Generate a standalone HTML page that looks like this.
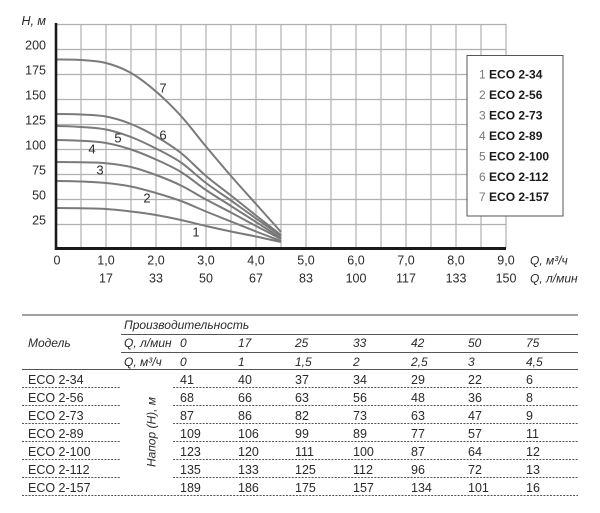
<!DOCTYPE html>
<html><head><meta charset="utf-8"><style>
html,body{margin:0;padding:0;background:#fff;}
svg{display:block;}
text{font-family:"Liberation Sans",sans-serif;fill:#2a2a2a;}
.it{font-style:italic;}
</style></head><body>
<svg width="600" height="513" viewBox="0 0 600 513" xmlns="http://www.w3.org/2000/svg">
<!-- grid -->
<g stroke="#b0b0b0" stroke-width="1.2" fill="none">
<path d="M56 24.5H506M56 49.5H506M56 74.5H506M56 99.5H506M56 124.5H506M56 149.5H506M56 174.5H506M56 199.5H506M56 224.5H506"/>
<path d="M81 24V248M106 24V248M131 24V248M156 24V248M181 24V248M206 24V248M231 24V248M256 24V248M281 24V248M306 24V248M331 24V248M356 24V248M381 24V248M406 24V248M431 24V248M456 24V248M481 24V248M506 24V248"/>
</g>
<!-- curves -->
<g stroke="#7a7a7a" stroke-width="2" fill="none">
<path d="M56 208C64.33 208 72.67 208.13 81 208.3C89.33 208.47 97.67 208.47 106 209C114.33 209.53 122.67 210.5 131 211.5C139.33 212.5 147.67 213.58 156 215C164.33 216.42 172.67 218.17 181 220C189.33 221.83 197.67 224.08 206 226C214.33 227.92 222.67 229.75 231 231.5C239.33 233.25 247.67 234.75 256 236.5C264.33 238.25 272.67 240.17 281 242"/>
<path d="M56 181C64.33 181 72.67 181.17 81 181.5C89.33 181.83 97.67 182.17 106 183C114.33 183.83 122.67 184.83 131 186.5C139.33 188.17 147.67 190.58 156 193C164.33 195.42 172.67 197.92 181 201C189.33 204.08 197.67 208.08 206 211.5C214.33 214.92 222.67 218.17 231 221.5C239.33 224.83 247.67 228.25 256 231.5C264.33 234.75 272.67 237.83 281 241"/>
<path d="M56 162C64.33 162 72.67 162.1 81 162.3C89.33 162.5 97.67 162.42 106 163.2C114.33 163.98 122.67 165.03 131 167C139.33 168.97 147.67 171.92 156 175C164.33 178.08 172.67 181.42 181 185.5C189.33 189.58 197.67 195 206 199.5C214.33 204 222.67 208.08 231 212.5C239.33 216.92 247.67 221.58 256 226C264.33 230.42 272.67 234.67 281 239"/>
<path d="M56 140C64.33 140 72.67 140.3 81 140.8C89.33 141.3 97.67 141.55 106 143C114.33 144.45 122.67 146.75 131 149.5C139.33 152.25 147.67 155.75 156 159.5C164.33 163.25 172.67 166.92 181 172C189.33 177.08 197.67 184.33 206 190C214.33 195.67 222.67 200.67 231 206C239.33 211.33 247.67 216.67 256 222C264.33 227.33 272.67 232.67 281 238"/>
<path d="M56 126C64.33 126 72.67 126.42 81 127C89.33 127.58 97.67 127.83 106 129.5C114.33 131.17 122.67 133.83 131 137C139.33 140.17 147.67 144.25 156 148.5C164.33 152.75 172.67 156.75 181 162.5C189.33 168.25 197.67 176.67 206 183C214.33 189.33 222.67 194.58 231 200.5C239.33 206.42 247.67 212.58 256 218.5C264.33 224.42 272.67 230.17 281 236"/>
<path d="M56 114C64.33 114 72.67 114.08 81 114.5C89.33 114.92 97.67 114.92 106 116.5C114.33 118.08 122.67 120.67 131 124C139.33 127.33 147.67 131.67 156 136.5C164.33 141.33 172.67 146.42 181 153C189.33 159.58 197.67 168.92 206 176C214.33 183.08 222.67 188.92 231 195.5C239.33 202.08 247.67 208.92 256 215.5C264.33 222.08 272.67 228.5 281 235"/>
<path d="M56 59.5C64.33 59.5 72.67 59.42 81 60C89.33 60.58 97.67 60.83 106 63C114.33 65.17 122.67 68.25 131 73C139.33 77.75 147.67 84.33 156 91.5C164.33 98.67 172.67 106.83 181 116C189.33 125.17 197.67 136.5 206 146.5C214.33 156.5 222.67 166.42 231 176C239.33 185.58 247.67 194.67 256 204C264.33 213.33 272.67 222.67 281 232"/>
</g>
<!-- axes -->
<path d="M56 23V250" stroke="#1a1a1a" stroke-width="2.6"/>
<path d="M55 248.5H506" stroke="#1a1a1a" stroke-width="3"/>
<!-- curve labels -->
<g font-size="13" text-anchor="middle">
<text x="163" y="92.5" fill="#6a6a6a">7</text>
<text x="163" y="139.5" fill="#6a6a6a">6</text>
<text x="118" y="142.5" fill="#6a6a6a">5</text>
<text x="92" y="153.5" fill="#6a6a6a">4</text>
<text x="100" y="174.5" fill="#6a6a6a">3</text>
<text x="147" y="202.5" fill="#6a6a6a">2</text>
<text x="196" y="236.5" fill="#6a6a6a">1</text>
</g>
<!-- y labels -->
<g font-size="12.5" text-anchor="end">
<text x="46" y="25" class="it">H, м</text>
<text x="46" y="49.5">200</text>
<text x="46" y="74.5">175</text>
<text x="46" y="99.5">150</text>
<text x="46" y="124.5">125</text>
<text x="46" y="149.5">100</text>
<text x="46" y="174.5">75</text>
<text x="46" y="199.5">50</text>
<text x="46" y="224.5">25</text>
</g>
<!-- x labels -->
<g font-size="12.5" text-anchor="middle">
<text x="57" y="264.5">0</text>
<text x="106" y="264.5">1,0</text>
<text x="156" y="264.5">2,0</text>
<text x="206" y="264.5">3,0</text>
<text x="256" y="264.5">4,0</text>
<text x="306" y="264.5">5,0</text>
<text x="356" y="264.5">6,0</text>
<text x="406" y="264.5">7,0</text>
<text x="456" y="264.5">8,0</text>
<text x="506" y="264.5">9,0</text>
<text x="106" y="282.5">17</text>
<text x="156" y="282.5">33</text>
<text x="206" y="282.5">50</text>
<text x="256" y="282.5">67</text>
<text x="306" y="282.5">83</text>
<text x="356" y="282.5">100</text>
<text x="406" y="282.5">117</text>
<text x="456" y="282.5">133</text>
<text x="506" y="282.5">150</text>
</g>
<text x="530" y="264.5" font-size="12" class="it">Q, м³/ч</text>
<text x="530" y="282.5" font-size="12" class="it">Q, л/мин</text>
<!-- legend -->
<rect x="467" y="55.5" width="96" height="160.5" fill="#fff" stroke="#555" stroke-width="1"/>
<g font-size="12">
<text x="479" y="78.5"><tspan fill="#777">1</tspan> <tspan font-weight="bold" fill="#1a1a1a">ECO 2-34</tspan></text>
<text x="479" y="99"><tspan fill="#777">2</tspan> <tspan font-weight="bold" fill="#1a1a1a">ECO 2-56</tspan></text>
<text x="479" y="119.5"><tspan fill="#777">3</tspan> <tspan font-weight="bold" fill="#1a1a1a">ECO 2-73</tspan></text>
<text x="479" y="140"><tspan fill="#777">4</tspan> <tspan font-weight="bold" fill="#1a1a1a">ECO 2-89</tspan></text>
<text x="479" y="160.5"><tspan fill="#777">5</tspan> <tspan font-weight="bold" fill="#1a1a1a">ECO 2-100</tspan></text>
<text x="479" y="181"><tspan fill="#777">6</tspan> <tspan font-weight="bold" fill="#1a1a1a">ECO 2-112</tspan></text>
<text x="479" y="201"><tspan fill="#777">7</tspan> <tspan font-weight="bold" fill="#1a1a1a">ECO 2-157</tspan></text>
</g>

<!-- TABLE -->
<path d="M22 315H578" stroke="#a0a0a0" stroke-width="2"/>
<path d="M121 334.5H578M121 352.5H578M22 369.5H578" stroke="#555" stroke-width="1"/>
<g stroke="#555" stroke-width="1" stroke-dasharray="2 1.3">
<path d="M22 387.5H120M173 387.5H578"/>
<path d="M22 405.5H120M173 405.5H578"/>
<path d="M22 423.5H120M173 423.5H578"/>
<path d="M22 441.5H120M173 441.5H578"/>
<path d="M22 459.5H120M173 459.5H578"/>
<path d="M22 477.5H120M173 477.5H578"/>
<path d="M22 495.5H578"/>
</g>
<g font-size="12" class="it">
<text x="124" y="329" class="it">Производительность</text>
<text x="28" y="347" class="it">Модель</text>
<text x="124" y="347" class="it">Q, л/мин</text>
<text x="124" y="366" class="it">Q, м³/ч</text>
<text x="180" y="347" class="it">0</text>
<text x="238" y="347" class="it">17</text>
<text x="295" y="347" class="it">25</text>
<text x="353" y="347" class="it">33</text>
<text x="411" y="347" class="it">42</text>
<text x="468" y="347" class="it">50</text>
<text x="526" y="347" class="it">75</text>
<text x="180" y="366" class="it">0</text>
<text x="238" y="366" class="it">1</text>
<text x="295" y="366" class="it">1,5</text>
<text x="353" y="366" class="it">2</text>
<text x="411" y="366" class="it">2,5</text>
<text x="468" y="366" class="it">3</text>
<text x="526" y="366" class="it">4,5</text>
</g>
<text x="0" y="0" font-size="12" class="it" text-anchor="middle" transform="translate(155.5 432) rotate(-90)">Напор (Н), м</text>
<g font-size="12.5">
<text x="28" y="384">ECO 2-34</text>
<text x="28" y="402">ECO 2-56</text>
<text x="28" y="420">ECO 2-73</text>
<text x="28" y="438">ECO 2-89</text>
<text x="28" y="456">ECO 2-100</text>
<text x="28" y="474">ECO 2-112</text>
<text x="28" y="492">ECO 2-157</text>
</g>
<g font-size="12.5">
<text y="384"><tspan x="180">41</tspan><tspan x="238">40</tspan><tspan x="295">37</tspan><tspan x="353">34</tspan><tspan x="411">29</tspan><tspan x="468">22</tspan><tspan x="526">6</tspan></text>
<text y="402"><tspan x="180">68</tspan><tspan x="238">66</tspan><tspan x="295">63</tspan><tspan x="353">56</tspan><tspan x="411">48</tspan><tspan x="468">36</tspan><tspan x="526">8</tspan></text>
<text y="420"><tspan x="180">87</tspan><tspan x="238">86</tspan><tspan x="295">82</tspan><tspan x="353">73</tspan><tspan x="411">63</tspan><tspan x="468">47</tspan><tspan x="526">9</tspan></text>
<text y="438"><tspan x="180">109</tspan><tspan x="238">106</tspan><tspan x="295">99</tspan><tspan x="353">89</tspan><tspan x="411">77</tspan><tspan x="468">57</tspan><tspan x="526">11</tspan></text>
<text y="456"><tspan x="180">123</tspan><tspan x="238">120</tspan><tspan x="295">111</tspan><tspan x="353">100</tspan><tspan x="411">87</tspan><tspan x="468">64</tspan><tspan x="526">12</tspan></text>
<text y="474"><tspan x="180">135</tspan><tspan x="238">133</tspan><tspan x="295">125</tspan><tspan x="353">112</tspan><tspan x="411">96</tspan><tspan x="468">72</tspan><tspan x="526">13</tspan></text>
<text y="492"><tspan x="180">189</tspan><tspan x="238">186</tspan><tspan x="295">175</tspan><tspan x="353">157</tspan><tspan x="411">134</tspan><tspan x="468">101</tspan><tspan x="526">16</tspan></text>
</g>
</svg>
</body></html>
